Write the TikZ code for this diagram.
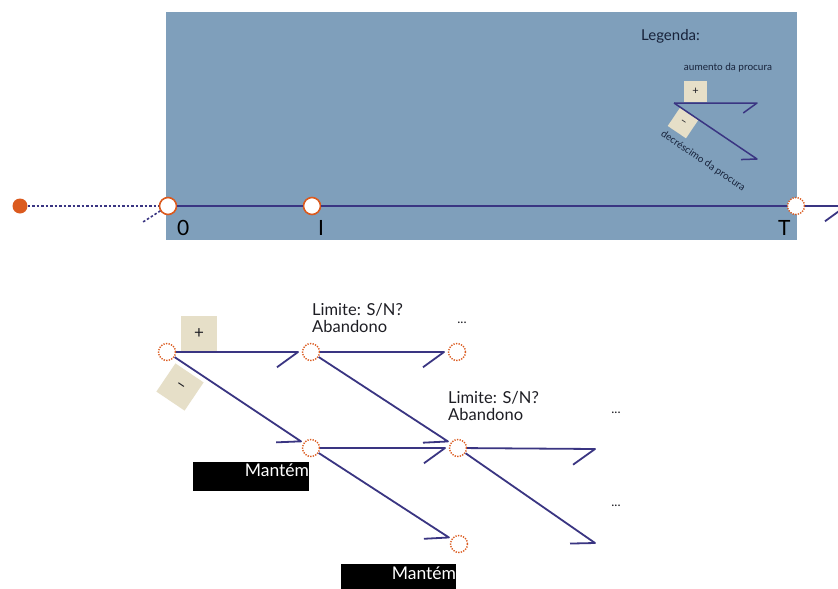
\documentclass[tikz,border=0pt]{standalone}
\usepackage{fontspec}
\setmainfont{Lato}
\usetikzlibrary{calc}
\definecolor{panel}{HTML}{7F9FBB}
\definecolor{navy}{HTML}{3A3582}
\definecolor{ember}{HTML}{DB5A1E}
\definecolor{sand}{HTML}{E6DFC8}
\definecolor{ink}{HTML}{1E1E24}
\definecolor{legendink}{HTML}{17223A}

\newcommand{\fs}[1]{\fontsize{#1}{#1}\selectfont}
% line from #2 to #3 ending #4 short of #3's centre, with a single barb of length #5
\newcommand{\halfbarbline}[5]{%
  \draw[#1] (#2) -- ($(#3)!#4!(#2)$) -- ($(#3)!#4!(#2)!#5!36:(#2)$);}

\tikzset{
  link/.style={draw=navy, line width=1.8pt, line join=round},
  thinlink/.style={draw=navy, line width=1.5pt, line join=round},
  dashlink/.style={draw=navy, line width=1.6pt, dash pattern=on 2.5pt off 2pt},
  tcirc/.style={circle, minimum size=17pt, inner sep=0pt, fill=white, draw=ember, line width=1.6pt},
  tcircdot/.style={tcirc, line width=1.4pt, dash pattern=on 1.3pt off 1.3pt},
  fdot/.style={circle, minimum size=15pt, inner sep=0pt, fill=ember},
  sandbox/.style={fill=sand, inner sep=0pt, text=ink},
  blackbox/.style={fill=black, inner sep=0pt},
  whitetext/.style={text=white, inner sep=0pt, font=\fs{17.5}},
  limtext/.style={text=ink, inner sep=0pt, font=\fs{16.5}},
  axistext/.style={text=black, inner sep=0pt, font=\fs{21}},
  dots/.style={text=ink, inner sep=0pt, font=\fs{13}},
}

\begin{document}
\begin{tikzpicture}[x=1pt,y=-1pt]
\useasboundingbox (0,0) rectangle (838,589);
\clip (0,0) rectangle (838,589);
\fill[white] (0,0) rectangle (838,589);

% background panel of the time axis
\fill[panel] (166,12) rectangle (797,240);

% time axis
\coordinate (c0) at (168,206);
\node[fdot] (start) at (20,206) {};
\draw[dashlink] (start) -- (c0);
\draw[dashlink] (c0) -- ++(-25,16);
\node[tcirc] (t0) at (c0) {};
\node[tcirc] (tI) at (312,206) {};
\node[tcircdot] (tT) at (796,206) {};
\coordinate (tend) at (846,206);
\draw[link] (t0) -- (tI);
\draw[link] (tI) -- (tT);
\halfbarbline{link}{tT}{tend}{0pt}{26pt}

\node[axistext, anchor=base west] (l0) at (177,235) {0};
\node[axistext, anchor=base west] (lI) at (318,235) {I};
\node[axistext, anchor=base west] (lT) at (778,235) {T};

% legend
\node[anchor=base west, inner sep=0pt, text=legendink, font=\fs{15}] (leg) at (641,40) {Legenda:};
\node[inner sep=0pt, text=legendink, font=\fs{10}] (up) at (728,68) {aumento da procura};
\node[sandbox, minimum width=23pt, minimum height=21pt, font=\fs{11}] (lgplus) at (695.5,91.5) {+};
\node[sandbox, minimum size=22pt, rotate=-34, font=\fs{11}] (lgminus) at (683,123) {–};
\coordinate (lg0) at (674,103);
\coordinate (lg1) at (757,103);
\coordinate (lg2) at (757,159);
\halfbarbline{thinlink}{lg0}{lg1}{0pt}{17pt}
\halfbarbline{thinlink}{lg0}{lg2}{0pt}{16pt}
\node[inner sep=0pt, text=legendink, font=\fs{10}, rotate=-34] (down) at (703,161) {decréscimo da procura};

% decision tree
\node[sandbox, minimum size=36pt, font=\fs{17}] (plus) at (199,334) {+};
\node[sandbox, minimum size=34pt, rotate=-34, font=\fs{17}] (minus) at (180,387) {–};

\node[tcircdot] (A) at (167,352) {};
\node[tcircdot] (B) at (311,352) {};
\node[tcircdot] (C) at (311,448) {};
\node[tcircdot] (D) at (457,352) {};
\node[tcircdot] (E) at (458,448) {};
\node[tcircdot] (F) at (459,544) {};
\coordinate (G) at (595,449);
\coordinate (H) at (595,543);

\halfbarbline{link}{A}{B}{13pt}{26pt}
\halfbarbline{link}{A}{C}{12pt}{25pt}
\halfbarbline{link}{B}{D}{13pt}{26pt}
\halfbarbline{link}{B}{E}{12pt}{25pt}
\halfbarbline{link}{C}{E}{13pt}{26pt}
\halfbarbline{link}{C}{F}{12pt}{25pt}
\halfbarbline{link}{E}{G}{0pt}{27pt}
\halfbarbline{link}{E}{H}{0pt}{25pt}

\node[limtext, anchor=base west] (lim1) at (312,315) {Limite: S/N?};
\node[limtext, anchor=base west] (ab1) at (312,332) {Abandono};
\node[limtext, anchor=base west] (lim2) at (448,403) {Limite: S/N?};
\node[limtext, anchor=base west] (ab2) at (448,420) {Abandono};

\node[dots] (dD) at (462,323) {...};
\node[dots] (dE) at (616,413) {...};
\node[dots] (dF) at (616,506) {...};

\node[blackbox, minimum width=116pt, minimum height=29pt] (m1) at (251,476.5) {};
\node[whitetext, anchor=base east] (m1t) at ($(m1.north east)+(0,15)$) {Mantém};
\node[blackbox, minimum width=115pt, minimum height=27pt] (m2) at (398.5,577.5) {};
\node[whitetext, anchor=base east] (m2t) at ($(m2.north east)+(0,16)$) {Mantém};
\end{tikzpicture}
\end{document}
